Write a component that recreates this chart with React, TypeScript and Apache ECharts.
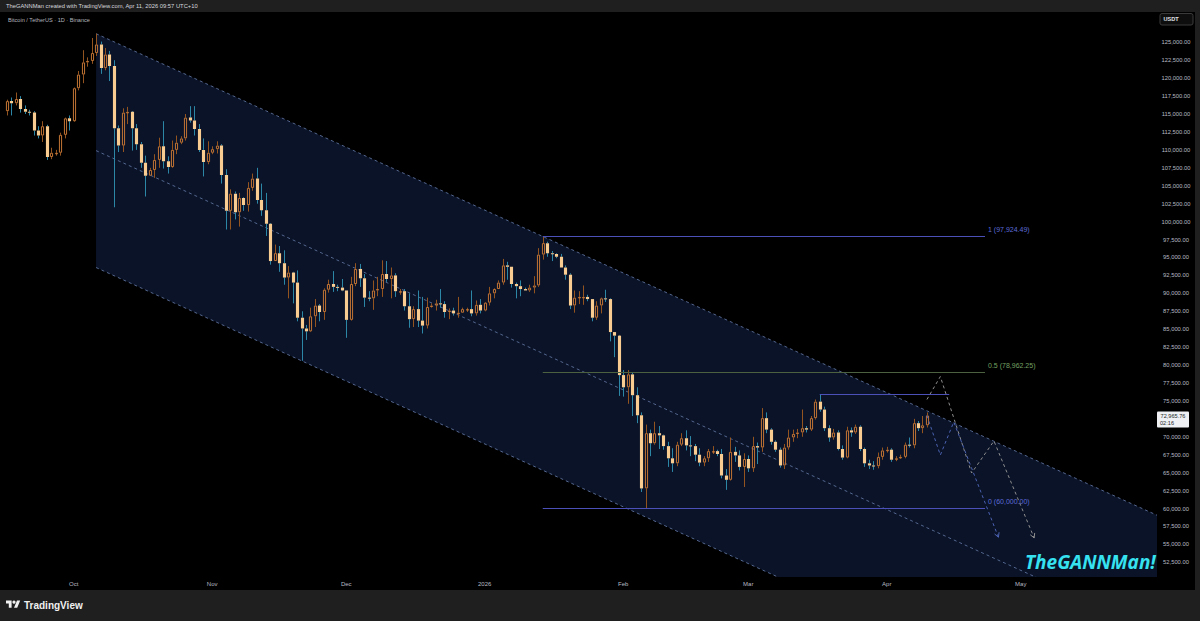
import { useEffect, useRef } from 'react';
import * as echarts from 'echarts';

// ---------- axis range ----------
const FIRST_DAY = '2025-09-15';
const LAST_DAY = '2026-05-31';
const CANDLE_START = '2025-09-16';
const Y_MIN = 50000;
const Y_MAX = 130000;
const Y_STEP = 2500;
const Y_LABEL_LOW = 52500;
const Y_LABEL_HIGH = 125000;
const MONTH_LABELS = ['2026', 'Feb', 'Mar', 'Apr', 'May', 'Jun', 'Jul', 'Aug', 'Sep', 'Oct', 'Nov', 'Dec'];

// ---------- daily candles, thousands USDT: [open, close, low, high] ----------
const SEP_2025 = [
  [115.4, 116.8, 114.8, 117.0], [116.8, 116.5, 114.8, 117.3], [116.5, 117.1, 116.2, 118.0],
  [117.1, 115.7, 115.2, 117.5], [115.7, 115.3, 115.0, 116.2], [115.3, 115.2, 114.8, 115.6],
  [115.2, 112.7, 112.0, 115.4], [112.7, 112.0, 111.6, 113.3], [112.0, 113.3, 111.1, 114.0],
  [113.3, 109.0, 108.6, 113.5], [109.0, 109.6, 108.7, 110.3], [109.6, 109.6, 109.2, 110.0],
  [109.6, 112.1, 109.2, 112.4], [112.1, 114.4, 111.6, 114.5], [114.4, 114.0, 112.7, 114.8],
];
const OCT_2025 = [
  [114.0, 118.6, 113.9, 118.7], [118.6, 120.5, 118.3, 121.0], [120.5, 122.2, 119.3, 123.9],
  [122.2, 122.4, 121.6, 122.9], [122.4, 123.5, 122.0, 125.6], [123.5, 124.7, 123.1, 126.2],
  [124.7, 121.4, 120.6, 125.1], [121.4, 123.3, 121.1, 124.2], [123.3, 121.7, 119.6, 123.8],
  [121.7, 113.0, 102.0, 122.5], [113.0, 110.6, 109.7, 113.4], [110.6, 115.2, 109.7, 115.8],
  [115.2, 115.3, 113.6, 116.0], [115.3, 113.0, 109.9, 115.4], [113.0, 110.8, 110.0, 113.6],
  [110.8, 108.2, 107.5, 111.1], [108.2, 106.4, 103.5, 109.2], [106.4, 107.2, 106.4, 107.5],
  [107.2, 108.6, 106.1, 109.4], [108.6, 110.5, 107.5, 111.7], [110.5, 108.4, 107.4, 114.0],
  [108.4, 107.6, 106.7, 109.1], [107.6, 110.0, 107.5, 111.3], [110.0, 111.0, 109.4, 112.0],
  [111.0, 111.6, 110.8, 111.9], [111.6, 114.5, 111.3, 115.0], [114.5, 114.1, 113.8, 116.1],
  [114.1, 112.9, 112.0, 116.1], [112.9, 110.0, 109.7, 113.6], [110.0, 108.3, 106.3, 111.6],
  [108.3, 109.6, 108.0, 111.2],
];
const NOV_2025 = [
  [109.6, 110.1, 109.4, 110.5], [110.1, 110.6, 109.5, 111.2], [110.6, 106.5, 105.3, 110.8],
  [106.5, 101.5, 98.9, 107.3], [101.5, 103.9, 98.9, 104.5], [103.9, 101.3, 100.3, 104.2],
  [101.3, 103.3, 99.3, 104.0], [103.3, 102.3, 101.5, 103.4], [102.3, 104.7, 101.4, 105.5],
  [104.7, 106.0, 104.3, 106.7], [106.0, 103.0, 102.5, 107.5], [103.0, 101.6, 100.8, 105.3],
  [101.6, 99.7, 98.0, 104.0], [99.7, 94.5, 94.0, 99.8], [94.5, 95.6, 94.5, 96.8],
  [95.6, 94.2, 93.0, 96.6], [94.2, 92.2, 91.2, 96.0], [92.2, 92.9, 89.3, 93.8],
  [92.9, 91.5, 88.6, 93.0], [91.5, 86.6, 86.1, 93.2], [86.6, 85.1, 80.6, 87.5],
  [85.1, 84.7, 83.5, 85.6], [84.7, 86.8, 84.6, 88.0], [86.8, 88.3, 85.3, 89.2],
  [88.3, 87.4, 86.1, 88.5], [87.4, 90.5, 86.3, 90.7], [90.5, 91.3, 90.1, 91.9],
  [91.3, 90.9, 90.2, 93.1], [90.9, 90.8, 90.3, 91.2], [90.8, 90.4, 90.3, 92.0],
];
const DEC_2025 = [
  [90.4, 86.3, 83.8, 90.4], [86.3, 91.3, 86.2, 92.3], [91.3, 93.4, 91.0, 94.2],
  [93.4, 92.1, 90.9, 94.1], [92.1, 89.4, 88.1, 92.7], [89.4, 89.3, 88.9, 90.3],
  [89.3, 90.4, 87.7, 91.8], [90.4, 90.6, 89.6, 92.3], [90.6, 92.7, 89.5, 94.6],
  [92.7, 92.0, 91.6, 94.5], [92.0, 92.5, 89.3, 93.6], [92.5, 90.3, 89.5, 92.8],
  [90.3, 90.3, 89.8, 90.6], [90.3, 88.2, 87.6, 90.6], [88.2, 86.4, 85.2, 90.0],
  [86.4, 87.8, 85.3, 88.2], [87.8, 86.2, 85.3, 90.4], [86.2, 85.5, 84.4, 89.5],
  [85.5, 88.1, 85.1, 89.4], [88.1, 88.3, 88.0, 88.6], [88.3, 88.6, 87.6, 89.1],
  [88.6, 88.5, 88.0, 90.6], [88.5, 87.4, 86.6, 88.9], [87.4, 87.6, 86.4, 87.9],
  [87.6, 87.2, 86.9, 88.0], [87.2, 87.3, 86.6, 89.5], [87.3, 87.8, 87.3, 88.0],
  [87.8, 87.8, 87.4, 88.0], [87.8, 87.2, 86.8, 90.4], [87.2, 88.4, 86.9, 89.0],
  [88.4, 87.6, 87.2, 89.2],
];
const JAN_2026 = [
  [87.6, 88.7, 87.5, 88.8], [88.7, 90.0, 88.3, 90.9], [90.0, 90.6, 89.3, 90.7],
  [90.6, 91.5, 90.6, 91.8], [91.5, 93.9, 91.2, 94.8], [93.9, 93.7, 91.9, 94.4],
  [93.7, 91.3, 90.8, 93.7], [91.3, 91.0, 89.3, 91.5], [91.0, 90.6, 89.6, 91.8],
  [90.6, 90.4, 90.4, 90.8], [90.4, 90.8, 90.2, 91.2], [90.8, 91.1, 90.0, 92.4],
  [91.1, 95.4, 90.9, 96.3], [95.4, 97.0, 94.7, 97.92], [97.0, 95.6, 95.1, 97.2],
  [95.6, 95.5, 94.5, 95.9], [95.5, 95.1, 94.9, 95.6], [95.1, 93.6, 93.6, 95.5],
  [93.6, 92.6, 91.9, 93.9], [92.6, 88.3, 87.8, 92.8], [88.3, 89.4, 87.3, 90.4],
  [89.4, 89.5, 88.5, 90.3], [89.5, 89.5, 88.4, 91.1], [89.5, 89.2, 88.9, 89.8],
  [89.2, 86.6, 86.1, 89.2], [86.6, 88.3, 86.3, 88.9], [88.3, 89.3, 87.2, 89.4],
  [89.3, 89.2, 88.8, 90.5], [89.2, 84.6, 83.3, 89.3], [84.6, 84.1, 81.1, 84.6],
  [84.1, 78.6, 75.7, 84.2],
];
const FEB_2026 = [
  [78.6, 76.9, 75.6, 79.3], [76.9, 78.7, 74.6, 79.3], [78.7, 75.8, 72.9, 79.0],
  [75.8, 73.0, 71.9, 76.9], [73.0, 62.8, 62.3, 73.4], [62.8, 70.5, 60.0, 71.7],
  [70.5, 69.1, 67.3, 71.0], [69.1, 70.5, 68.9, 72.1], [70.5, 70.2, 68.3, 71.5],
  [70.2, 68.7, 68.2, 70.3], [68.7, 67.0, 65.8, 69.3], [67.0, 66.3, 65.1, 68.4],
  [66.3, 68.9, 65.9, 69.3], [68.9, 69.8, 68.7, 70.5], [69.8, 68.8, 68.1, 70.9],
  [68.8, 68.7, 67.3, 70.1], [68.7, 67.5, 66.6, 69.0], [67.5, 66.4, 65.9, 68.4],
  [66.4, 67.0, 65.9, 67.3], [67.0, 68.0, 66.5, 68.3], [68.0, 68.0, 67.6, 68.7],
  [68.0, 67.6, 67.3, 68.2], [67.6, 64.6, 64.2, 68.3], [64.6, 64.0, 62.6, 65.5],
  [64.0, 67.9, 63.9, 69.9], [67.9, 67.4, 66.5, 68.6], [67.4, 65.8, 65.3, 68.1],
  [65.8, 66.9, 63.0, 67.7],
];
const MAR_2026 = [
  [66.9, 65.6, 65.1, 67.4], [65.6, 68.7, 65.1, 70.0], [68.7, 68.5, 66.2, 69.2],
  [68.5, 72.6, 67.9, 74.0], [72.6, 71.0, 70.5, 73.4], [71.0, 69.3, 68.9, 71.2],
  [69.3, 68.2, 67.9, 69.5], [68.2, 66.0, 65.7, 68.5], [66.0, 68.5, 65.5, 69.0],
  [68.5, 69.9, 68.2, 71.0], [69.9, 70.4, 69.3, 71.0], [70.4, 70.6, 69.8, 71.1],
  [70.6, 71.2, 70.0, 73.8], [71.2, 71.0, 70.6, 71.5], [71.0, 72.6, 70.8, 72.9],
  [72.6, 74.9, 72.4, 75.2], [74.9, 73.8, 73.5, 75.96], [73.8, 71.2, 70.8, 74.2],
  [71.2, 69.9, 69.3, 71.6], [69.9, 70.6, 69.6, 71.1], [70.6, 68.3, 68.1, 70.9],
  [68.3, 67.1, 66.8, 68.8], [67.1, 70.9, 67.0, 71.4], [70.9, 70.6, 70.0, 71.3],
  [70.6, 71.4, 70.4, 71.7], [71.4, 68.3, 68.0, 71.6], [68.3, 66.3, 65.8, 68.5],
  [66.3, 66.0, 65.5, 66.8], [66.0, 65.9, 65.4, 66.6], [65.9, 67.2, 65.6, 67.8],
  [67.2, 68.1, 66.8, 68.5],
];
const APR_2026 = [
  [68.1, 68.2, 67.8, 68.6], [68.2, 66.8, 66.5, 68.4], [66.8, 67.0, 66.6, 67.3],
  [67.0, 67.2, 66.9, 67.5], [67.2, 68.9, 67.0, 69.2], [68.9, 68.8, 68.5, 69.9],
  [68.8, 71.9, 68.4, 72.5], [71.9, 71.2, 70.8, 72.2], [71.2, 71.6, 70.5, 72.9],
  [71.6, 72.96576, 71.3, 73.4],
];

// ---------- drawings ----------
const CHANNEL_DATES = ['2025-10-06', '2026-05-31'];
const CHANNEL_TOP = [126200, 59200];
const CHANNEL_MID = [109900, 42900];
const CHANNEL_BOTTOM = [93600, 26600];

const FIB_DATES = ['2026-01-14', '2026-04-23'];
const FIB_RATIOS = ['1', '0.5', '0'];
const FIB_PRICES = [97924.49, 78962.25, 60000.0];

const RANGE_HIGH_DATES = ['2026-03-17', '2026-04-15'];
const RANGE_HIGH_PRICE = 75960;

const PATH_BLUE_DATES = ['2026-04-10', '2026-04-13', '2026-04-16', '2026-04-26'];
const PATH_BLUE_PRICES = [72966, 67450, 72060, 56000];
const PATH_GRAY_DATES = ['2026-04-10', '2026-04-13', '2026-04-20', '2026-04-25', '2026-05-04'];
const PATH_GRAY_PRICES = [75200, 78400, 64950, 69410, 55900];

const LAST_PRICE = 72965.76;
const COUNTDOWN = '02:16';

// ---------- colours ----------
const UP_BORDER = '#c27434';
const UP_WICK = '#93541f';
const DOWN_BODY = '#f9cd92';
const DOWN_WICK = '#2c86a6';
const CHANNEL_FILL = '#0a1328';
const CHANNEL_LINE = '#55678f';
const FIB_COLORS = ['#4a50b8', '#4b6140', '#4a50b8'];
const FIB_TEXT_COLORS = ['#5d6bd8', '#74a062', '#5d6bd8'];
const RANGE_COLOR = '#4a50b8';
const PATH_BLUE = '#4c62b2';
const PATH_GRAY = '#8e8e8e';
const PANEL = '#1f1f1f';
const AXIS_TEXT = '#b8bbc4';
const FONT = '"Liberation Sans", Arial, sans-serif';

// ---------- helpers ----------
const DAY_MS = 86400000;
function utc(s: string) {
  const [y, m, d] = s.split('-').map(Number);
  return Date.UTC(y, m - 1, d);
}
function iso(t: number) {
  return new Date(t).toISOString().slice(0, 10);
}
const CATEGORIES: string[] = [];
for (let t = utc(FIRST_DAY); t <= utc(LAST_DAY); t += DAY_MS) CATEGORIES.push(iso(t));
const idx = (d: string) => CATEGORIES.indexOf(d);

const MONTHS = [SEP_2025, OCT_2025, NOV_2025, DEC_2025, JAN_2026, FEB_2026, MAR_2026, APR_2026];
const CANDLE_ROWS: number[][] = [];
{
  let i = idx(CANDLE_START);
  for (const m of MONTHS) {
    for (const [o, c, l, h] of m) {
      CANDLE_ROWS.push([i, o * 1000, c * 1000, l * 1000, h * 1000]);
      i++;
    }
  }
}

function fmtPrice(v: number) {
  return v.toLocaleString('en-US', { minimumFractionDigits: 2, maximumFractionDigits: 2 });
}

function extend(a: number[], b: number[], len: number) {
  const dx = b[0] - a[0], dy = b[1] - a[1];
  const d = Math.hypot(dx, dy) || 1;
  return [b[0] + (dx / d) * len, b[1] + (dy / d) * len];
}

const TV_PATH = 'M14 22H7V11H0V4h14v18zM28 22h-8l7.5-18h8L28 22z';
let registered = false;
function registerShapes() {
  if (registered) return;
  registered = true;
  echarts.graphic.registerShape('tvlogo', echarts.graphic.extendPath(TV_PATH, {}) as any);
}

export default function App() {
  const ref = useRef<HTMLDivElement>(null);

  useEffect(() => {
    if (!ref.current) return;
    registerShapes();
    const chart = echarts.init(ref.current, undefined, { renderer: 'svg' });

    const channelSeries = {
      type: 'custom',
      clip: true,
      z: 1,
      data: [[idx(CHANNEL_DATES[0]), CHANNEL_TOP[0]]],
      encode: { x: 0, y: 1 },
      renderItem: (_p: any, api: any) => {
        const i0 = idx(CHANNEL_DATES[0]);
        const i1 = idx(CHANNEL_DATES[1]);
        const t0 = api.coord([i0, CHANNEL_TOP[0]]);
        const t1 = extend(t0, api.coord([i1, CHANNEL_TOP[1]]), 30);
        const m0 = api.coord([i0, CHANNEL_MID[0]]);
        const m1 = extend(m0, api.coord([i1, CHANNEL_MID[1]]), 30);
        const b0 = api.coord([i0, CHANNEL_BOTTOM[0]]);
        const b1 = extend(b0, api.coord([i1, CHANNEL_BOTTOM[1]]), 30);
        const dash = { stroke: CHANNEL_LINE, lineWidth: 1, lineDash: [3, 3], fill: null };
        return {
          type: 'group',
          children: [
            { type: 'polygon', shape: { points: [t0, t1, b1, b0] }, style: { fill: CHANNEL_FILL } },
            { type: 'line', shape: { x1: t0[0], y1: t0[1], x2: t1[0], y2: t1[1] }, style: dash },
            { type: 'line', shape: { x1: m0[0], y1: m0[1], x2: m1[0], y2: m1[1] }, style: dash },
            { type: 'line', shape: { x1: b0[0], y1: b0[1], x2: b1[0], y2: b1[1] }, style: dash },
          ],
        };
      },
    };

    // fib / range horizontal levels as markLines (lines) + custom texts (labels)
    const levelLines: any[] = FIB_PRICES.map((p, k) => [
      { coord: [idx(FIB_DATES[0]), p], lineStyle: { color: FIB_COLORS[k], width: 1, type: 'solid', opacity: 1 } },
      { coord: [idx(FIB_DATES[1]), p] },
    ]);
    levelLines.push([
      { coord: [idx(RANGE_HIGH_DATES[0]), RANGE_HIGH_PRICE], lineStyle: { color: RANGE_COLOR, width: 1, type: 'solid', opacity: 1 } },
      { coord: [idx(RANGE_HIGH_DATES[1]), RANGE_HIGH_PRICE] },
    ]);

    const fibLabelSeries = {
      type: 'custom',
      clip: true,
      z: 3,
      data: FIB_PRICES.map((p, k) => [idx(FIB_DATES[1]), p, k]),
      encode: { x: 0, y: 1 },
      renderItem: (_p: any, api: any) => {
        const p = api.value(1);
        const k = api.value(2);
        const b = api.coord([idx(FIB_DATES[1]), p]);
        return {
          type: 'text',
          style: {
            text: `${FIB_RATIOS[k]} (${fmtPrice(p)})`,
            x: b[0] + 3,
            y: b[1] - 7,
            fill: FIB_TEXT_COLORS[k],
            font: `7px ${FONT}`,
            verticalAlign: 'middle',
            align: 'left',
          },
        };
      },
      markLine: {
        silent: true,
        symbol: ['none', 'none'],
        animation: false,
        label: { show: false },
        emphasis: { disabled: true },
        data: levelLines,
      },
    };

    const candleSeries = {
      type: 'custom',
      clip: true,
      z: 4,
      data: CANDLE_ROWS,
      encode: { x: 0, y: [1, 2, 3, 4] },
      renderItem: (_p: any, api: any) => {
        const i = api.value(0);
        const o = api.value(1), c = api.value(2), l = api.value(3), h = api.value(4);
        const x = api.coord([i, o])[0];
        const yo = api.coord([i, o])[1];
        const yc = api.coord([i, c])[1];
        const yl = api.coord([i, l])[1];
        const yh = api.coord([i, h])[1];
        const band = api.size([1, 0])[0];
        const w = Math.max(1, band * 0.7);
        const up = c >= o;
        const top = Math.min(yo, yc);
        const bot = Math.max(yo, yc);
        const cx = Math.round(x) + 0.5;
        const wick = up ? UP_WICK : DOWN_WICK;
        const children: any[] = [
          { type: 'line', shape: { x1: cx, y1: yh, x2: cx, y2: top }, style: { stroke: wick, lineWidth: 1 } },
          { type: 'line', shape: { x1: cx, y1: bot, x2: cx, y2: yl }, style: { stroke: wick, lineWidth: 1 } },
        ];
        if (up) {
          children.push({
            type: 'rect',
            shape: { x: cx - w / 2 + 0.5, y: top + 0.5, width: w - 1, height: Math.max(0.5, bot - top - 1) },
            style: { fill: 'rgba(0,0,0,0)', stroke: UP_BORDER, lineWidth: 1 },
          });
        } else {
          children.push({
            type: 'rect',
            shape: { x: cx - w / 2, y: top, width: w, height: Math.max(1, bot - top) },
            style: { fill: DOWN_BODY },
          });
        }
        return { type: 'group', children };
      },
    };

    const makePath = (dates: string[], prices: number[], color: string) => ({
      type: 'custom',
      clip: true,
      z: 5,
      data: [[idx(dates[0]), prices[0]]],
      encode: { x: 0, y: 1 },
      renderItem: (_p: any, api: any) => {
        const pts = dates.map((d, k) => api.coord([idx(d), prices[k]]));
        const n = pts.length;
        const tip = pts[n - 1];
        const prev = pts[n - 2];
        const ang = Math.atan2(tip[1] - prev[1], tip[0] - prev[0]);
        const L = 5;
        const a1 = [tip[0] - L * Math.cos(ang - 0.5), tip[1] - L * Math.sin(ang - 0.5)];
        const a2 = [tip[0] - L * Math.cos(ang + 0.5), tip[1] - L * Math.sin(ang + 0.5)];
        return {
          type: 'group',
          children: [
            { type: 'polyline', shape: { points: pts }, style: { stroke: color, lineWidth: 1, lineDash: [3, 3], fill: null } },
            { type: 'polyline', shape: { points: [a1, tip, a2] }, style: { stroke: color, lineWidth: 1, fill: null } },
          ],
        };
      },
    });

    const priceTagSeries = {
      type: 'custom',
      clip: false,
      z: 20,
      data: [[idx(CATEGORIES[CATEGORIES.length - 1]), LAST_PRICE]],
      encode: { x: 0, y: 1 },
      renderItem: (params: any, api: any) => {
        const cs = params.coordSys;
        const y = api.coord([0, LAST_PRICE])[1];
        const x0 = cs.x + cs.width;
        return {
          type: 'group',
          children: [
            { type: 'rect', shape: { x: x0, y: y - 4, width: 32, height: 16, r: 1 }, style: { fill: '#eef0f4' } },
            { type: 'text', style: { text: fmtPrice(LAST_PRICE), x: x0 + 16, y: y, align: 'center', verticalAlign: 'middle', fill: '#1c1f26', font: `5.6px ${FONT}` } },
            { type: 'text', style: { text: COUNTDOWN, x: x0 + 3, y: y + 7.5, align: 'left', verticalAlign: 'middle', fill: '#1c1f26', font: `5.6px ${FONT}` } },
          ],
        };
      },
    };

    const TV_S = 0.4;
    const TV_X = 6;
    const TV_Y = 599;

    const option: any = {
      animation: false,
      backgroundColor: '#000000',
      grid: { left: 0, right: 43, top: 6.44, height: 573.79, containLabel: false },
      xAxis: {
        type: 'category',
        data: CATEGORIES,
        boundaryGap: true,
        z: 100,
        axisLine: { show: false },
        axisTick: { show: false },
        splitLine: { show: false },
        axisLabel: {
          interval: (_i: number, v: string) => v.slice(8) === '01',
          formatter: (v: string) => MONTH_LABELS[Number(v.slice(5, 7)) - 1],
          color: AXIS_TEXT,
          fontSize: 6,
          fontFamily: FONT,
          margin: 1,
        },
      },
      yAxis: {
        type: 'value',
        position: 'right',
        min: Y_MIN,
        max: Y_MAX,
        interval: Y_STEP,
        axisLine: { show: false },
        axisTick: { show: false },
        splitLine: { show: false },
        axisLabel: {
          // the last-price tag hides the tick label it sits on
          formatter: (v: number) =>
            v < Y_LABEL_LOW || v > Y_LABEL_HIGH || Math.abs(v - LAST_PRICE) < 1200 ? '' : fmtPrice(v),
          color: AXIS_TEXT,
          fontSize: 5.8,
          fontFamily: FONT,
          margin: 19,
          align: 'center',
        },
      },
      series: [
        channelSeries,
        fibLabelSeries,
        candleSeries,
        makePath(PATH_GRAY_DATES, PATH_GRAY_PRICES, PATH_GRAY),
        makePath(PATH_BLUE_DATES, PATH_BLUE_PRICES, PATH_BLUE),
        priceTagSeries,
      ],
      graphic: [
        { type: 'rect', z: 50, shape: { x: 0, y: 577, width: 1157, height: 13 }, style: { fill: '#000000' } },
        { type: 'rect', z: 50, shape: { x: 0, y: 0, width: 1200, height: 12 }, style: { fill: PANEL } },
        { type: 'rect', z: 50, shape: { x: 1195, y: 0, width: 5, height: 621 }, style: { fill: PANEL } },
        { type: 'rect', z: 50, shape: { x: 0, y: 590, width: 1200, height: 31 }, style: { fill: PANEL } },
        {
          type: 'text', z: 51, x: 6, y: 6,
          style: { text: 'TheGANNMan created with TradingView.com, Apr 11, 2026 09:57 UTC+10', fill: '#d6d8de', font: `5.8px ${FONT}`, verticalAlign: 'middle' },
        },
        {
          type: 'text', z: 51, x: 8, y: 20,
          style: { text: 'Bitcoin / TetherUS · 1D · Binance', fill: '#b2b5be', font: `5.6px ${FONT}`, verticalAlign: 'middle' },
        },
        { type: 'rect', z: 51, shape: { x: 1160, y: 13.5, width: 33, height: 11.5, r: 2 }, style: { fill: '#0e0e0e', stroke: '#3a3a3a', lineWidth: 1 } },
        { type: 'text', z: 52, x: 1163.5, y: 19.4, style: { text: 'USDT', fill: '#e0e2e8', font: `bold 5.6px ${FONT}`, verticalAlign: 'middle' } },
        {
          type: 'text', z: 52, x: 1025, y: 562,
          style: {
            text: 'TheGANNMan!', fill: '#36e2f0', font: 'italic bold 19px "Open Sans", sans-serif',
            verticalAlign: 'middle', align: 'left', shadowColor: 'rgba(0,0,0,0.9)', shadowBlur: 3,
          },
        },
        { type: 'tvlogo', z: 52, x: TV_X, y: TV_Y, scaleX: TV_S, scaleY: TV_S, style: { fill: '#f0f0f0' } },
        { type: 'circle', z: 52, shape: { cx: TV_X + 20 * TV_S, cy: TV_Y + 8 * TV_S, r: 4 * TV_S }, style: { fill: '#f0f0f0' } },
        { type: 'text', z: 52, x: 24, y: 605, style: { text: 'TradingView', fill: '#f0f0f0', font: `bold 10px ${FONT}`, verticalAlign: 'middle' } },
      ],
    };

    chart.setOption(option);
    return () => chart.dispose();
  }, []);

  return <div ref={ref} style={{ position: 'fixed', left: 0, top: 0, width: 1200, height: 621 }} />;
}
